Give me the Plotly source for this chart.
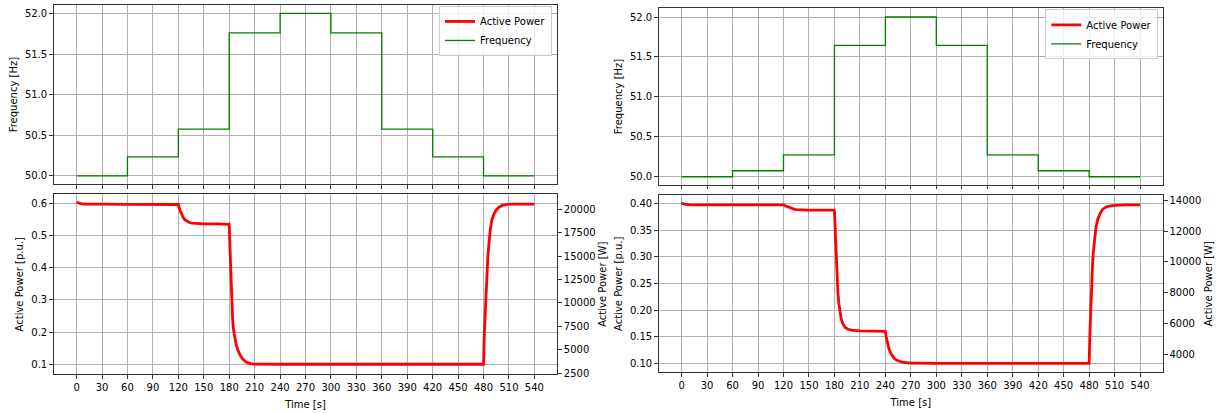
import plotly.graph_objects as go

# ---------------- data ----------------
t_freq = [0, 60, 120, 180, 240, 300, 360, 420, 480, 540]
freq_left = [50.0, 50.235, 50.575, 51.76, 52.0, 51.76, 50.575, 50.235, 50.0, 50.0]
freq_right = [50.0, 50.075, 50.275, 51.645, 52.0, 51.645, 50.275, 50.075, 50.0, 50.0]

t_pow_left = [0, 2, 5, 10, 15, 30, 60, 90, 119, 120, 122, 124, 126, 128, 130, 133, 136,
              140, 150, 165, 179.5, 180, 181, 182, 183, 184, 185, 186, 188, 190, 193, 196,
              200, 205, 210, 240, 300, 360, 420, 479.5, 480, 481, 482, 483, 484, 485, 486,
              488, 490, 492, 495, 498, 502, 506, 510, 525, 540]
p_left = [0.604, 0.602, 0.600, 0.5985, 0.598, 0.598, 0.5975, 0.598, 0.598, 0.597, 0.579,
          0.564, 0.555, 0.549, 0.545, 0.541, 0.539, 0.538, 0.537, 0.537, 0.537, 0.535,
          0.46, 0.36, 0.29, 0.24, 0.21, 0.19, 0.163, 0.146, 0.128, 0.116, 0.107, 0.102,
          0.1005, 0.1, 0.1, 0.1, 0.1, 0.1, 0.1, 0.2, 0.27, 0.34, 0.39, 0.43, 0.465,
          0.52, 0.55, 0.566, 0.58, 0.588, 0.594, 0.597, 0.598, 0.598, 0.598]

t_pow_right = [0, 2, 5, 10, 30, 60, 90, 119, 120, 122, 124, 126, 128, 130, 133, 136, 140,
               150, 165, 179.5, 180, 181, 182, 183, 184, 185, 186, 188, 190, 193, 196, 200,
               210, 225, 239.5, 240, 241, 242, 244, 246, 248, 250, 253, 256, 260, 265, 270,
               300, 360, 420, 479.5, 480, 481, 482, 483, 484, 485, 486, 488, 490, 493, 496,
               500, 505, 510, 525, 540]
p_right = [0.402, 0.400, 0.399, 0.398, 0.398, 0.3975, 0.398, 0.398, 0.398, 0.3965, 0.395,
           0.3935, 0.392, 0.391, 0.3895, 0.389, 0.3885, 0.388, 0.388, 0.388, 0.386, 0.34,
           0.30, 0.265, 0.235, 0.215, 0.2, 0.183, 0.174, 0.167, 0.164, 0.1625, 0.161, 0.161,
           0.161, 0.16, 0.15, 0.14, 0.128, 0.12, 0.114, 0.11, 0.106, 0.104, 0.102, 0.101,
           0.1005, 0.1, 0.1, 0.1, 0.1, 0.1, 0.16, 0.21, 0.25, 0.285, 0.31, 0.33, 0.355,
           0.37, 0.382, 0.39, 0.394, 0.396, 0.397, 0.398, 0.398]

P_BASE = 34400  # W per p.u.

# ---------------- figure ----------------
W, H = 1217, 413
RED = "#ff0000"
GREEN = "#008000"
FONT = dict(family="DejaVu Sans", size=10, color="black")


def fx(a, b):
    return [a / W, b / W]


def fy(top, bottom):
    return [1 - bottom / H, 1 - top / H]


fig = go.Figure()

# left column
fig.add_trace(go.Scatter(x=t_pow_left, y=p_left, xaxis="x2", yaxis="y2", mode="lines",
                         line=dict(color=RED, width=2.8), name="Active Power",
                         legend="legend"))
fig.add_trace(go.Scatter(x=t_pow_left, y=[v * P_BASE for v in p_left], xaxis="x2",
                         yaxis="y3", mode="lines", line=dict(color="rgba(0,0,0,0)", width=0),
                         showlegend=False, hoverinfo="skip"))
fig.add_trace(go.Scatter(x=t_freq, y=freq_left, xaxis="x", yaxis="y", mode="lines",
                         line=dict(color=GREEN, width=1.3, shape="hv"), name="Frequency",
                         legend="legend"))

# right column
fig.add_trace(go.Scatter(x=t_pow_right, y=p_right, xaxis="x4", yaxis="y5", mode="lines",
                         line=dict(color=RED, width=2.8), name="Active Power",
                         legend="legend2"))
fig.add_trace(go.Scatter(x=t_pow_right, y=[v * P_BASE for v in p_right], xaxis="x4",
                         yaxis="y6", mode="lines", line=dict(color="rgba(0,0,0,0)", width=0),
                         showlegend=False, hoverinfo="skip"))
fig.add_trace(go.Scatter(x=t_freq, y=freq_right, xaxis="x3", yaxis="y4", mode="lines",
                         line=dict(color=GREEN, width=1.3, shape="hv"), name="Frequency",
                         legend="legend2"))

common = dict(showline=True, linecolor="#333333", linewidth=1, mirror=True,
              ticks="outside", ticklen=3.5, tickwidth=0.8, tickcolor="#333333",
              showgrid=True, gridcolor="#b0b0b0", gridwidth=0.8, zeroline=False,
              tickfont=FONT, title_font=FONT)

xcommon = dict(common, range=[-27, 567], tick0=0, dtick=30)
sec = dict(showline=True, linecolor="#333333", linewidth=1, ticks="outside", ticklen=3.5,
           tickwidth=0.8, tickcolor="#333333", showgrid=False, zeroline=False,
           tickfont=FONT, title_font=FONT, side="right", tickformat="d")

LEG = dict(xanchor="right", yanchor="top", bgcolor="rgba(255,255,255,0.8)",
           bordercolor="#cccccc", borderwidth=1, font=FONT, itemwidth=30,
           tracegroupgap=0)

fig.update_layout(
    width=W, height=H, margin=dict(l=0, r=0, t=0, b=0),
    paper_bgcolor="white", plot_bgcolor="white", font=FONT,
    xaxis=dict(xcommon, domain=fx(53.7, 557.3), anchor="y", showticklabels=False),
    yaxis=dict(common, domain=fy(4.3, 185.3), anchor="x", range=[49.9, 52.1],
               tick0=50, dtick=0.5, tickformat=".1f",
               title=dict(text="Frequency [Hz]", standoff=5)),
    xaxis2=dict(xcommon, domain=fx(53.7, 557.3), anchor="y2",
                title=dict(text="Time [s]", standoff=9)),
    yaxis2=dict(common, domain=fy(195.7, 377.7), anchor="x2", range=[0.0693, 0.6286],
                tick0=0.1, dtick=0.1, tickformat=".1f",
                title=dict(text="Active Power [p.u.]", standoff=5)),
    yaxis3=dict(sec, overlaying="y2", anchor="x2",
                range=[0.0693 * P_BASE, 0.6286 * P_BASE], tick0=2500, dtick=2500,
                title=dict(text="Active Power [W]", standoff=4)),
    xaxis3=dict(xcommon, domain=fx(658.7, 1163), anchor="y4", showticklabels=False),
    yaxis4=dict(common, domain=fy(7.3, 186), anchor="x3", range=[49.9, 52.11],
                tick0=50, dtick=0.5, tickformat=".1f",
                title=dict(text="Frequency [Hz]", standoff=5)),
    xaxis4=dict(xcommon, domain=fx(658.7, 1163), anchor="y5",
                title=dict(text="Time [s]", standoff=9)),
    yaxis5=dict(common, domain=fy(196.7, 375.7), anchor="x4", range=[0.0833, 0.416],
                tick0=0.1, dtick=0.05, tickformat=".2f",
                title=dict(text="Active Power [p.u.]", standoff=5)),
    yaxis6=dict(sec, overlaying="y5", anchor="x4",
                range=[0.0833 * P_BASE, 0.416 * P_BASE], tick0=4000, dtick=2000,
                title=dict(text="Active Power [W]", standoff=4)),
    legend=dict(LEG, x=552 / W, y=1 - 5 / H),
    legend2=dict(LEG, x=1158.3 / W, y=1 - 8.5 / H),
)

fig.write_html("out.html")
